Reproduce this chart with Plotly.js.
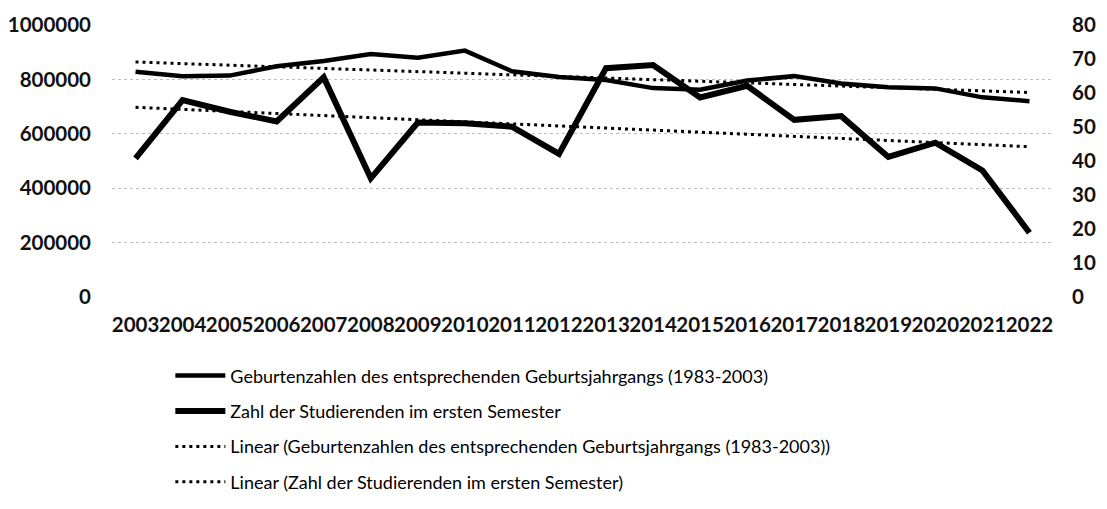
<!DOCTYPE html>
<html>
<head>
<meta charset="utf-8">
<script src="https://cdn.plot.ly/plotly-3.0.1.min.js"></script>
<style>html,body{margin:0;padding:0;background:#fff;}#chart{width:1107px;height:509px;}</style>
</head>
<body>
<div id="chart"></div>
<script>
var years = ['2003','2004','2005','2006','2007','2008','2009','2010','2011','2012','2013','2014','2015','2016','2017','2018','2019','2020','2021','2022'];
var births = [828000, 812000, 814000, 848000, 868000, 893000, 880000, 906000, 830000, 809000, 798000, 768000, 762000, 796000, 812000, 785000, 771000, 767000, 734000, 720000];
var students = [40.8, 57.9, 54.5, 51.6, 64.6, 34.9, 51.3, 51.1, 50.1, 42.1, 67.3, 68.2, 58.7, 62.1, 52.1, 53.2, 41.2, 45.4, 37.2, 18.9];
var trendYears = ['2003', '2022'];
var birthsTrend = [864000, 752000];
var studentsTrend = [55.8, 44.2];
var leftTicks = [0, 200000, 400000, 600000, 800000, 1000000];
var rightTicks = [0, 10, 20, 30, 40, 50, 60, 70, 80];
var names = [
  'Geburtenzahlen des entsprechenden Geburtsjahrgangs (1983-2003)',
  'Zahl der Studierenden im ersten Semester',
  'Linear (Geburtenzahlen des entsprechenden Geburtsjahrgangs (1983-2003))',
  'Linear (Zahl der Studierenden im ersten Semester)'
];

var traces = [
  {x: years, y: births, name: names[0], type: 'scatter', mode: 'lines', yaxis: 'y', legendgroup: 'a',
   line: {color: '#000', width: 4.5}},
  {x: years, y: students, name: names[1], type: 'scatter', mode: 'lines', yaxis: 'y2', legendgroup: 'b',
   line: {color: '#000', width: 6}},
  {x: trendYears, y: birthsTrend, name: names[2], type: 'scatter', mode: 'lines', yaxis: 'y', legendgroup: 'c',
   line: {color: '#000', width: 3, dash: '3px,4px'}},
  {x: trendYears, y: studentsTrend, name: names[3], type: 'scatter', mode: 'lines', yaxis: 'y2', legendgroup: 'd',
   line: {color: '#000', width: 3, dash: '3px,4px'}}
];

var tickFont = {family: 'Lato, "Open Sans", sans-serif', size: 20.5, color: '#111', weight: 'bold'};

var layout = {
  width: 1107, height: 509,
  margin: {l: 112, r: 54, t: 25, b: 212, autoexpand: false},
  paper_bgcolor: '#fff', plot_bgcolor: '#fff',
  showlegend: true,
  xaxis: {
    type: 'category', categoryorder: 'array', categoryarray: years,
    range: [-0.5, 19.5], showgrid: false, zeroline: false, showline: false,
    ticks: '', tickfont: tickFont, ticklabelstandoff: 13, tickangle: 0, automargin: false
  },
  yaxis: {
    range: [0, 1000000], tickvals: leftTicks, ticktext: leftTicks.map(String),
    showgrid: true, gridcolor: '#bdbdbd', griddash: 'dot', gridwidth: 1, automargin: false,
    zeroline: false, showline: false, ticks: '', tickfont: tickFont, ticklabelstandoff: 20
  },
  yaxis2: {
    range: [0, 80], tickvals: rightTicks, overlaying: 'y', side: 'right', automargin: false,
    showgrid: false, zeroline: false, showline: false, ticks: '', tickfont: tickFont, ticklabelstandoff: 18
  },
  legend: {
    x: 0.062, y: -0.222, xanchor: 'left', yanchor: 'top', xref: 'paper', yref: 'paper',
    orientation: 'v', bgcolor: 'rgba(0,0,0,0)', itemwidth: 50, tracegroupgap: 9,
    font: {family: 'Lato, "Open Sans", sans-serif', size: 18, color: '#000'}
  }
};

Plotly.newPlot('chart', traces, layout, {displayModeBar: false, staticPlot: true});
</script>
</body>
</html>
